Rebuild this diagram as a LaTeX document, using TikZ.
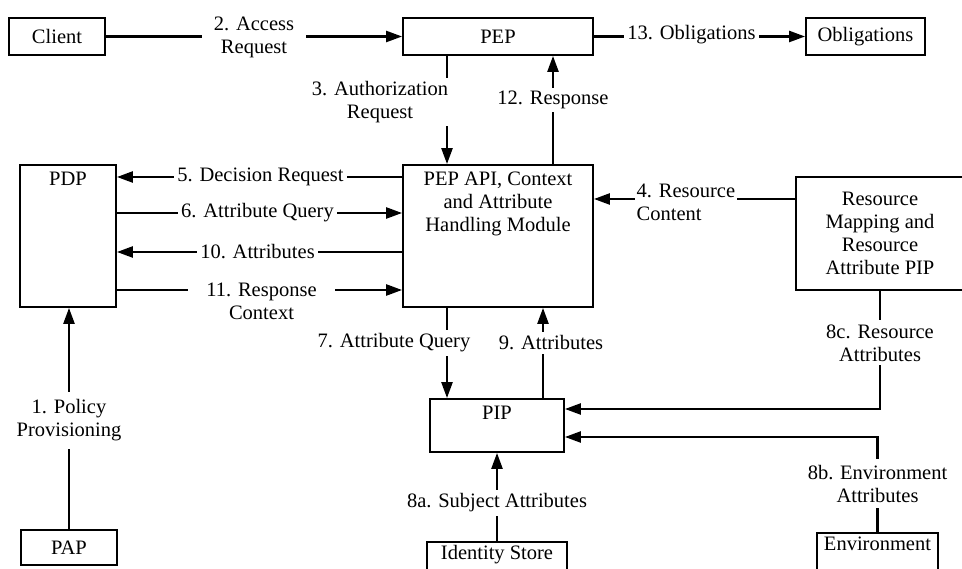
\documentclass[tikz,border=0pt]{standalone}
\usepackage{fontspec}
\setmainfont{Liberation Serif}
\usetikzlibrary{arrows.meta}
\begin{document}
\begin{tikzpicture}[x=1pt,y=-1pt,
  font=\fontsize{20.5}{23}\selectfont,
  box/.style={draw, line width=1.8pt, rectangle, inner sep=0pt, align=center},
  arr/.style={line width=2.4pt, -{Triangle[length=16pt,width=11pt]}},
  lbl/.style={fill=white, inner xsep=3pt, inner ysep=1pt, align=center},
  toptext/.style={label={[anchor=north, yshift=-4pt, align=center]north:#1}}
]
\useasboundingbox (0,0) rectangle (962,569);
\clip (0,0) rectangle (962,569);

% components
\node[box, minimum width=96pt, minimum height=37pt] (client) at (57,36.5) {Client};
\node[box, minimum width=190pt, minimum height=37pt] (pep) at (498,36.5) {PEP};
\node[box, minimum width=119pt, minimum height=37pt] (obl) at (865.5,36.5) {Obligations};
\node[box, minimum width=96pt, minimum height=142pt,
      toptext={PDP}] (pdp) at (68,236) {};
\node[box, minimum width=190pt, minimum height=142pt,
      toptext={PEP API, Context\\and Attribute\\Handling Module}] (api) at (498,236) {};
\node[box, minimum width=168pt, minimum height=113pt] (res) at (880,233.5)
      {Resource\\Mapping and\\Resource\\Attribute PIP};
\node[box, minimum width=134pt, minimum height=53pt,
      toptext={PIP}] (pip) at (497,425.5) {};
\node[box, minimum width=96pt, minimum height=35pt] (pap) at (69,547.5) {PAP};
\node[box, minimum width=140pt, minimum height=44pt,
      label={[anchor=north, yshift=-1pt]north:Identity Store}] (ids) at (497,564) {};
\node[box, minimum width=121pt, minimum height=44pt,
      label={[anchor=north, yshift=-1pt]north:Environment}] (env) at (877.5,555) {};

% client / PEP / obligations
\draw[arr] (client) -- (pep)
  node[midway, lbl, inner xsep=12pt, yshift=-1pt] {2. Access\\Request};
\draw[arr] (pep) -- (obl)
  node[midway, lbl, xshift=-8pt, yshift=2pt] {13. Obligations};

% PEP <-> context handler
\draw[arr] ([xshift=-51pt]pep.south) -- ([xshift=-51pt]api.north)
  node[midway, lbl, xshift=-67pt, yshift=8pt, inner ysep=3pt] {3. Authorization\\Request};
\draw[arr] ([xshift=55pt]api.north) -- ([xshift=55pt]pep.south)
  node[midway, lbl, yshift=10pt, inner ysep=3pt] {12. Response};

% PDP <-> context handler
\draw[arr] ([yshift=59pt]api.west) -- ([yshift=59pt]pdp.east)
  node[midway, lbl, xshift=1pt] {5. Decision Request};
\draw[arr] ([yshift=23pt]pdp.east) -- ([yshift=23pt]api.west)
  node[midway, lbl, xshift=-2pt] {6. Attribute Query};
\draw[arr] ([yshift=-16pt]api.west) -- ([yshift=-16pt]pdp.east)
  node[midway, lbl, xshift=-2pt] {10. Attributes};
\draw[arr] ([yshift=-54pt]pdp.east) -- ([yshift=-54pt]api.west)
  node[midway, lbl, xshift=2pt, yshift=-11pt, inner xsep=18pt] {11. Response\\Context};

% policy provisioning
\draw[arr] (pap.north) -- (pap.north |- pdp.south)
  node[midway, lbl, yshift=-2pt, inner ysep=8pt] {1. Policy\\Provisioning};

% resource content
\draw[arr] ([yshift=34.5pt]res.west) -- ([yshift=34.5pt]res.west -| api.east)
  node[pos=0.5, lbl, anchor=west, align=left, xshift=-61pt, yshift=-3pt, inner xsep=2pt]
  {4. Resource\\Content};

% context handler <-> PIP
\draw[arr] ([xshift=-51pt]api.south) -- ([xshift=-51pt]api.south |- pip.north)
  node[midway, lbl, xshift=-53pt, yshift=10pt, inner ysep=4pt] {7. Attribute Query};
\draw[arr] ([xshift=46pt]pip.north) -- ([xshift=46pt]pip.north |- api.south)
  node[midway, lbl, xshift=8pt, yshift=10pt, inner ysep=4pt] {9. Attributes};

% attribute sources -> PIP
\draw[arr] (ids.north) -- (pip.south)
  node[midway, lbl, yshift=-6pt, inner ysep=4pt] {8a. Subject Attributes};
\draw[arr] (res.south) |- ([yshift=16.5pt]pip.east)
  node[pos=0.22, lbl, inner ysep=4pt] {8c. Resource\\Attributes};
\draw[arr] (env.north) |- ([yshift=-11.5pt]pip.east)
  node[pos=0.255, lbl, inner ysep=6pt] {8b. Environment\\Attributes};
\end{tikzpicture}
\end{document}
